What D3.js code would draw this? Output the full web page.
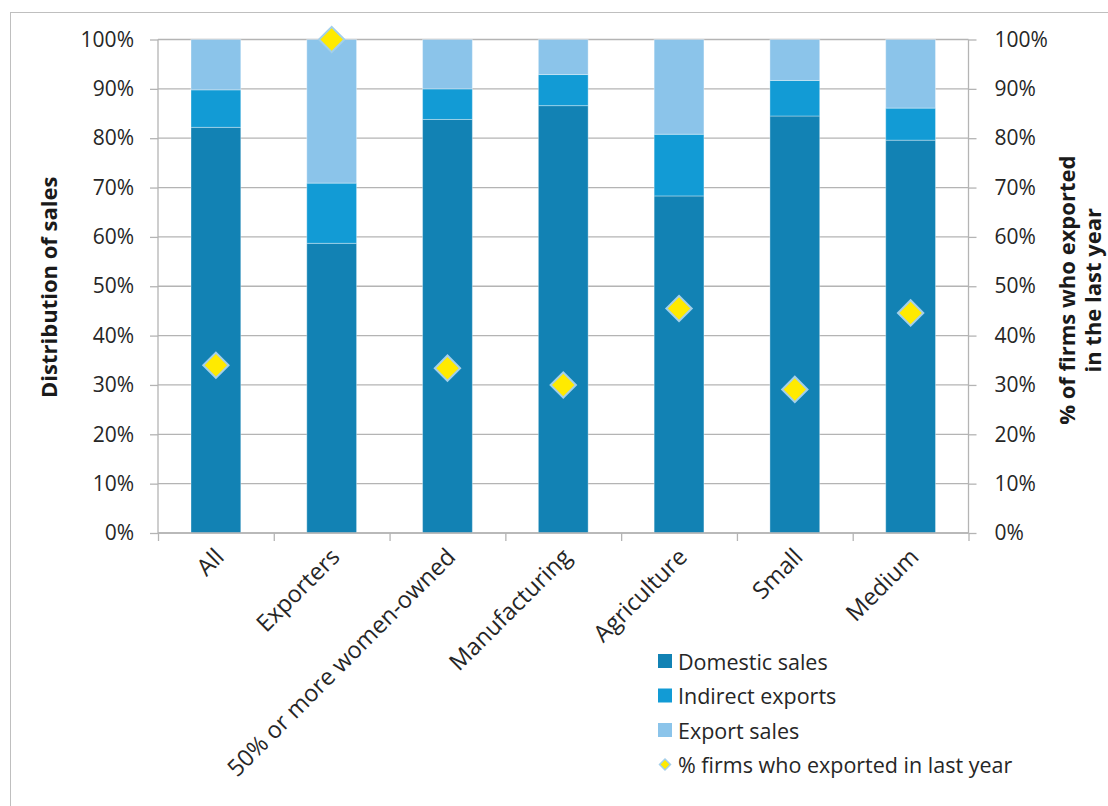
<!DOCTYPE html>
<html>
<head>
<meta charset="utf-8">
<script src="https://cdn.jsdelivr.net/npm/d3@7"></script>
<style>
  html, body { margin: 0; padding: 0; background: #fff; }
  svg { display: block; font-family: "Open Sans", "Liberation Sans", sans-serif; }
</style>
</head>
<body>
<svg id="chart" width="1108" height="806"></svg>
<script>
// Firm groups along the x axis
const categories = ["All", "Exporters", "50% or more women-owned", "Manufacturing", "Agriculture", "Small", "Medium"];

// Distribution of sales (shares of total, stacked)
const domesticSales   = [0.822, 0.587, 0.838, 0.866, 0.683, 0.845, 0.796];
const indirectExports = [0.076, 0.122, 0.062, 0.063, 0.125, 0.072, 0.065];
const exportSales     = categories.map((c, i) => 1 - domesticSales[i] - indirectExports[i]);

// % of firms who exported in the last year (right axis)
const exportedLastYear = [0.340, 1.000, 0.334, 0.300, 0.455, 0.291, 0.446];

const yTicks = [0, 0.1, 0.2, 0.3, 0.4, 0.5, 0.6, 0.7, 0.8, 0.9, 1.0];

const seriesKeys   = ["Domestic sales", "Indirect exports", "Export sales"];
const seriesColors = ["#1282b4", "#129bd5", "#8bc4ea"];
const markerLabel  = "% firms who exported in last year";

const rows = categories.map((c, i) => ({
  category: c,
  "Domestic sales": domesticSales[i],
  "Indirect exports": indirectExports[i],
  "Export sales": exportSales[i]
}));

const svg = d3.select("#chart");
const plot = { left: 158, right: 968.5, top: 39.5, bottom: 533 };

// Outer chart frame
svg.append("rect")
  .attr("x", 10.5).attr("y", 12.5)
  .attr("width", 1120).attr("height", 820)
  .attr("fill", "none").attr("stroke", "#bfbfbf").attr("stroke-width", 1);

const x = d3.scaleBand()
  .domain(categories)
  .range([plot.left, plot.right])
  .paddingInner(0.57)
  .paddingOuter(0.285);

const yLeft = d3.scaleLinear().domain([0, 1]).range([plot.bottom, plot.top]);
const yRight = d3.scaleLinear().domain([0, 1]).range([plot.bottom, plot.top]);

const gridColor = "#b4b4b4";
const pct = d3.format(".0%");

// Horizontal gridlines
svg.append("g")
  .selectAll("line")
  .data(yTicks)
  .join("line")
  .attr("x1", plot.left).attr("x2", plot.right)
  .attr("y1", d => yLeft(d)).attr("y2", d => yLeft(d))
  .attr("stroke", gridColor).attr("stroke-width", 1.3);

// Stacked bars
const stacked = d3.stack().keys(seriesKeys)(rows);
svg.append("g")
  .selectAll("g")
  .data(stacked)
  .join("g")
  .attr("fill", (d, i) => seriesColors[i])
  .selectAll("rect")
  .data(d => d)
  .join("rect")
  .attr("x", d => x(d.data.category))
  .attr("width", x.bandwidth())
  .attr("y", d => yLeft(d[1]))
  .attr("height", d => yLeft(d[0]) - yLeft(d[1]))
  .attr("stroke", "rgba(255,255,255,0.35)")
  .attr("stroke-width", 1);

// Left axis
const leftAxis = svg.append("g")
  .attr("transform", `translate(${plot.left},0)`)
  .call(d3.axisLeft(yLeft).tickValues(yTicks).tickFormat(pct).tickSize(8).tickPadding(16));
// Right axis
const rightAxis = svg.append("g")
  .attr("transform", `translate(${plot.right},0)`)
  .call(d3.axisRight(yRight).tickValues(yTicks).tickFormat(pct).tickSize(8).tickPadding(18));
// Bottom axis with ticks at band boundaries
const boundaries = categories.map(c => x(c) - x.step() * x.paddingInner() / 2).concat([plot.right]);
const bottomAxis = svg.append("g")
  .attr("transform", `translate(0,${plot.bottom})`)
  .call(d3.axisBottom(d3.scaleLinear().domain([plot.left, plot.right]).range([plot.left, plot.right]))
    .tickValues(boundaries).tickSize(8).tickFormat(""));

[leftAxis, rightAxis, bottomAxis].forEach(g => {
  g.select(".domain").attr("stroke", gridColor).attr("stroke-width", 1.3);
  g.selectAll(".tick line").attr("stroke", gridColor).attr("stroke-width", 1.3);
  g.selectAll(".tick text")
    .attr("fill", "#262626")
    .style("font-size", "21px")
    .style("font-family", "\"Open Sans\", sans-serif");
});
leftAxis.select(".domain").attr("d", `M0,${plot.top}V${plot.bottom}`);
rightAxis.select(".domain").attr("d", `M0,${plot.top}V${plot.bottom}`);
bottomAxis.select(".domain").attr("d", `M${plot.left},0H${plot.right}`);

// Category labels, rotated
svg.append("g")
  .selectAll("text")
  .data(categories)
  .join("text")
  .attr("transform", d => `translate(${x(d) + x.bandwidth() / 2 + 5},${plot.bottom + 21}) rotate(-45)`)
  .attr("text-anchor", "end")
  .attr("dominant-baseline", "middle")
  .attr("fill", "#262626")
  .style("font-size", "23.5px")
  .text(d => d);

// Diamond markers for % of firms that exported
const diamond = d3.symbol().type(d3.symbolSquare).size(320);
svg.append("g")
  .selectAll("path")
  .data(exportedLastYear)
  .join("path")
  .attr("d", diamond)
  .attr("transform", (d, i) => `translate(${x(categories[i]) + x.bandwidth() / 2},${yRight(d)}) rotate(45)`)
  .attr("fill", "#ffea00")
  .attr("stroke", "#a3cfea")
  .attr("stroke-width", 2);

// Axis titles
svg.append("text")
  .attr("transform", `translate(57,${(plot.top + plot.bottom) / 2 + 1}) rotate(-90)`)
  .attr("text-anchor", "middle")
  .attr("fill", "#1a1a1a")
  .style("font-size", "22px").style("font-weight", "bold")
  .text("Distribution of sales");

const rightTitle = svg.append("text")
  .attr("transform", `translate(1075,${(plot.top + plot.bottom) / 2 + 4}) rotate(-90)`)
  .attr("text-anchor", "middle")
  .attr("fill", "#1a1a1a")
  .style("font-size", "22px").style("font-weight", "bold");
rightTitle.append("tspan").attr("x", 0).attr("dy", 0).text("% of firms who exported");
rightTitle.append("tspan").attr("x", 0).attr("dy", 26).text("in the last year");

// Legend
const legend = svg.append("g").attr("transform", "translate(658,661)");
const legendRowGap = 34.5;
seriesKeys.forEach((k, i) => {
  const row = legend.append("g").attr("transform", `translate(0,${i * legendRowGap})`);
  row.append("rect").attr("x", 0).attr("y", -7).attr("width", 14).attr("height", 14).attr("fill", seriesColors[i]);
  row.append("text").attr("x", 20).attr("y", 0).attr("dominant-baseline", "central")
    .attr("fill", "#262626").style("font-size", "21.5px").text(k);
});
const markerRow = legend.append("g").attr("transform", `translate(0,${3 * legendRowGap})`);
markerRow.append("path")
  .attr("d", d3.symbol().type(d3.symbolSquare).size(60))
  .attr("transform", "translate(7,0) rotate(45)")
  .attr("fill", "#ffea00").attr("stroke", "#a3cfea").attr("stroke-width", 1.5);
markerRow.append("text").attr("x", 20).attr("y", 0).attr("dominant-baseline", "central")
  .attr("fill", "#262626").style("font-size", "21.5px").text(markerLabel);
</script>
</body>
</html>
